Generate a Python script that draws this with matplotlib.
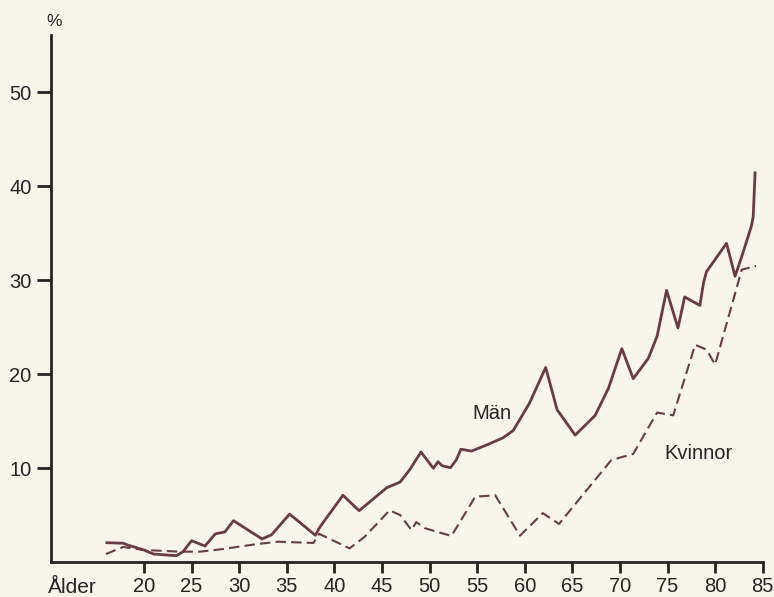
import matplotlib
matplotlib.use("Agg")
import matplotlib.pyplot as plt

plt.rcParams['font.family'] = ['Liberation Sans', 'DejaVu Sans']

# alder och andel (%) - man
man_alder = [16.1, 17.8, 18.3, 20.0, 21.0, 23.4, 24.1, 25.0, 26.4, 27.5, 28.5, 29.4,
             32.4, 33.4, 35.3, 38.0, 38.5, 40.9, 42.6, 45.5, 46.9, 47.9, 49.1, 50.4,
             50.9, 51.3, 52.2, 52.8, 53.3, 54.4, 56.0, 57.7, 58.8, 60.5, 62.2, 63.4,
             65.3, 67.4, 68.8, 70.2, 71.4, 73.0, 73.9, 74.9, 76.1, 76.8, 78.4, 78.8,
             79.1, 81.2, 82.1, 82.8, 83.8, 84.0, 84.2]
man_pct = [2.05, 2.0, 1.8, 1.28, 0.85, 0.67, 1.1, 2.27, 1.7, 3.0, 3.2, 4.4,
           2.45, 2.9, 5.1, 2.85, 3.75, 7.1, 5.46, 7.9, 8.5, 9.8, 11.7, 9.97,
           10.67, 10.25, 10.03, 10.85, 12.0, 11.8, 12.45, 13.2, 14.0, 16.9, 20.7, 16.2,
           13.5, 15.6, 18.5, 22.7, 19.5, 21.7, 24.0, 28.9, 24.9, 28.2, 27.3, 29.8,
           30.9, 33.9, 30.4, 32.5, 35.7, 36.7, 41.4]

# kvinnor
kv_alder = [16.0, 17.8, 20.0, 23.8, 25.9, 28.3, 31.8, 34.1, 37.8, 38.4, 41.6, 43.2,
            45.8, 46.9, 48.1, 48.6, 49.5, 52.3, 54.8, 56.9, 59.5, 61.9, 63.6, 69.1,
            71.4, 73.9, 75.6, 77.9, 79.1, 80.0, 82.8, 84.3]
kv_pct = [0.85, 1.6, 1.28, 1.1, 1.1, 1.38, 1.9, 2.16, 2.03, 3.0, 1.45, 2.7,
          5.5, 5.0, 3.4, 4.25, 3.6, 2.77, 6.95, 7.1, 2.8, 5.2, 4.05, 10.85,
          11.5, 15.9, 15.6, 23.1, 22.6, 21.0, 31.1, 31.5]

x_ticks = [20, 25, 30, 35, 40, 45, 50, 55, 60, 65, 70, 75, 80, 85]
y_ticks = [10, 20, 30, 40, 50]

bg = '#f8f6ea'
linje = '#6c3a45'
svart = '#262226'

fig = plt.figure(figsize=(7.74, 5.97), dpi=100, facecolor=bg)
ax = fig.add_axes([0.0659, 0.0586, 0.9195, 0.8827])
ax.set_facecolor(bg)

ax.plot(man_alder, man_pct, color=linje, lw=2.0)
ax.plot(kv_alder, kv_pct, color=linje, lw=1.5, dashes=(5, 2.5))

ax.set_xlim(10.23, 85)
ax.set_ylim(0, 56.06)

for s in ['top', 'right']:
    ax.spines[s].set_visible(False)
for s in ['left', 'bottom']:
    ax.spines[s].set_linewidth(2.0)
    ax.spines[s].set_color(svart)

ax.set_xticks(x_ticks)
ax.set_yticks(y_ticks)
ax.tick_params(axis='both', colors=svart, labelsize=14.5, width=2, direction='out')
ax.tick_params(axis='x', length=8, pad=3)
ax.tick_params(axis='y', length=10, pad=4)

# axeltexter
ax.text(-0.004, -0.059, 'Ålder', transform=ax.transAxes, fontsize=15,
        color=svart, ha='left', va='baseline')
ax.text(-0.006, 1.012, '%', transform=ax.transAxes, fontsize=12.5,
        color=svart, ha='left', va='bottom')

ax.text(56.6, 15.8, 'Män', fontsize=14.5, color=svart, ha='center', va='center')
ax.text(78.3, 11.5, 'Kvinnor', fontsize=14.5, color=svart, ha='center', va='center')

fig.savefig('out.png', dpi=100, facecolor=bg)
